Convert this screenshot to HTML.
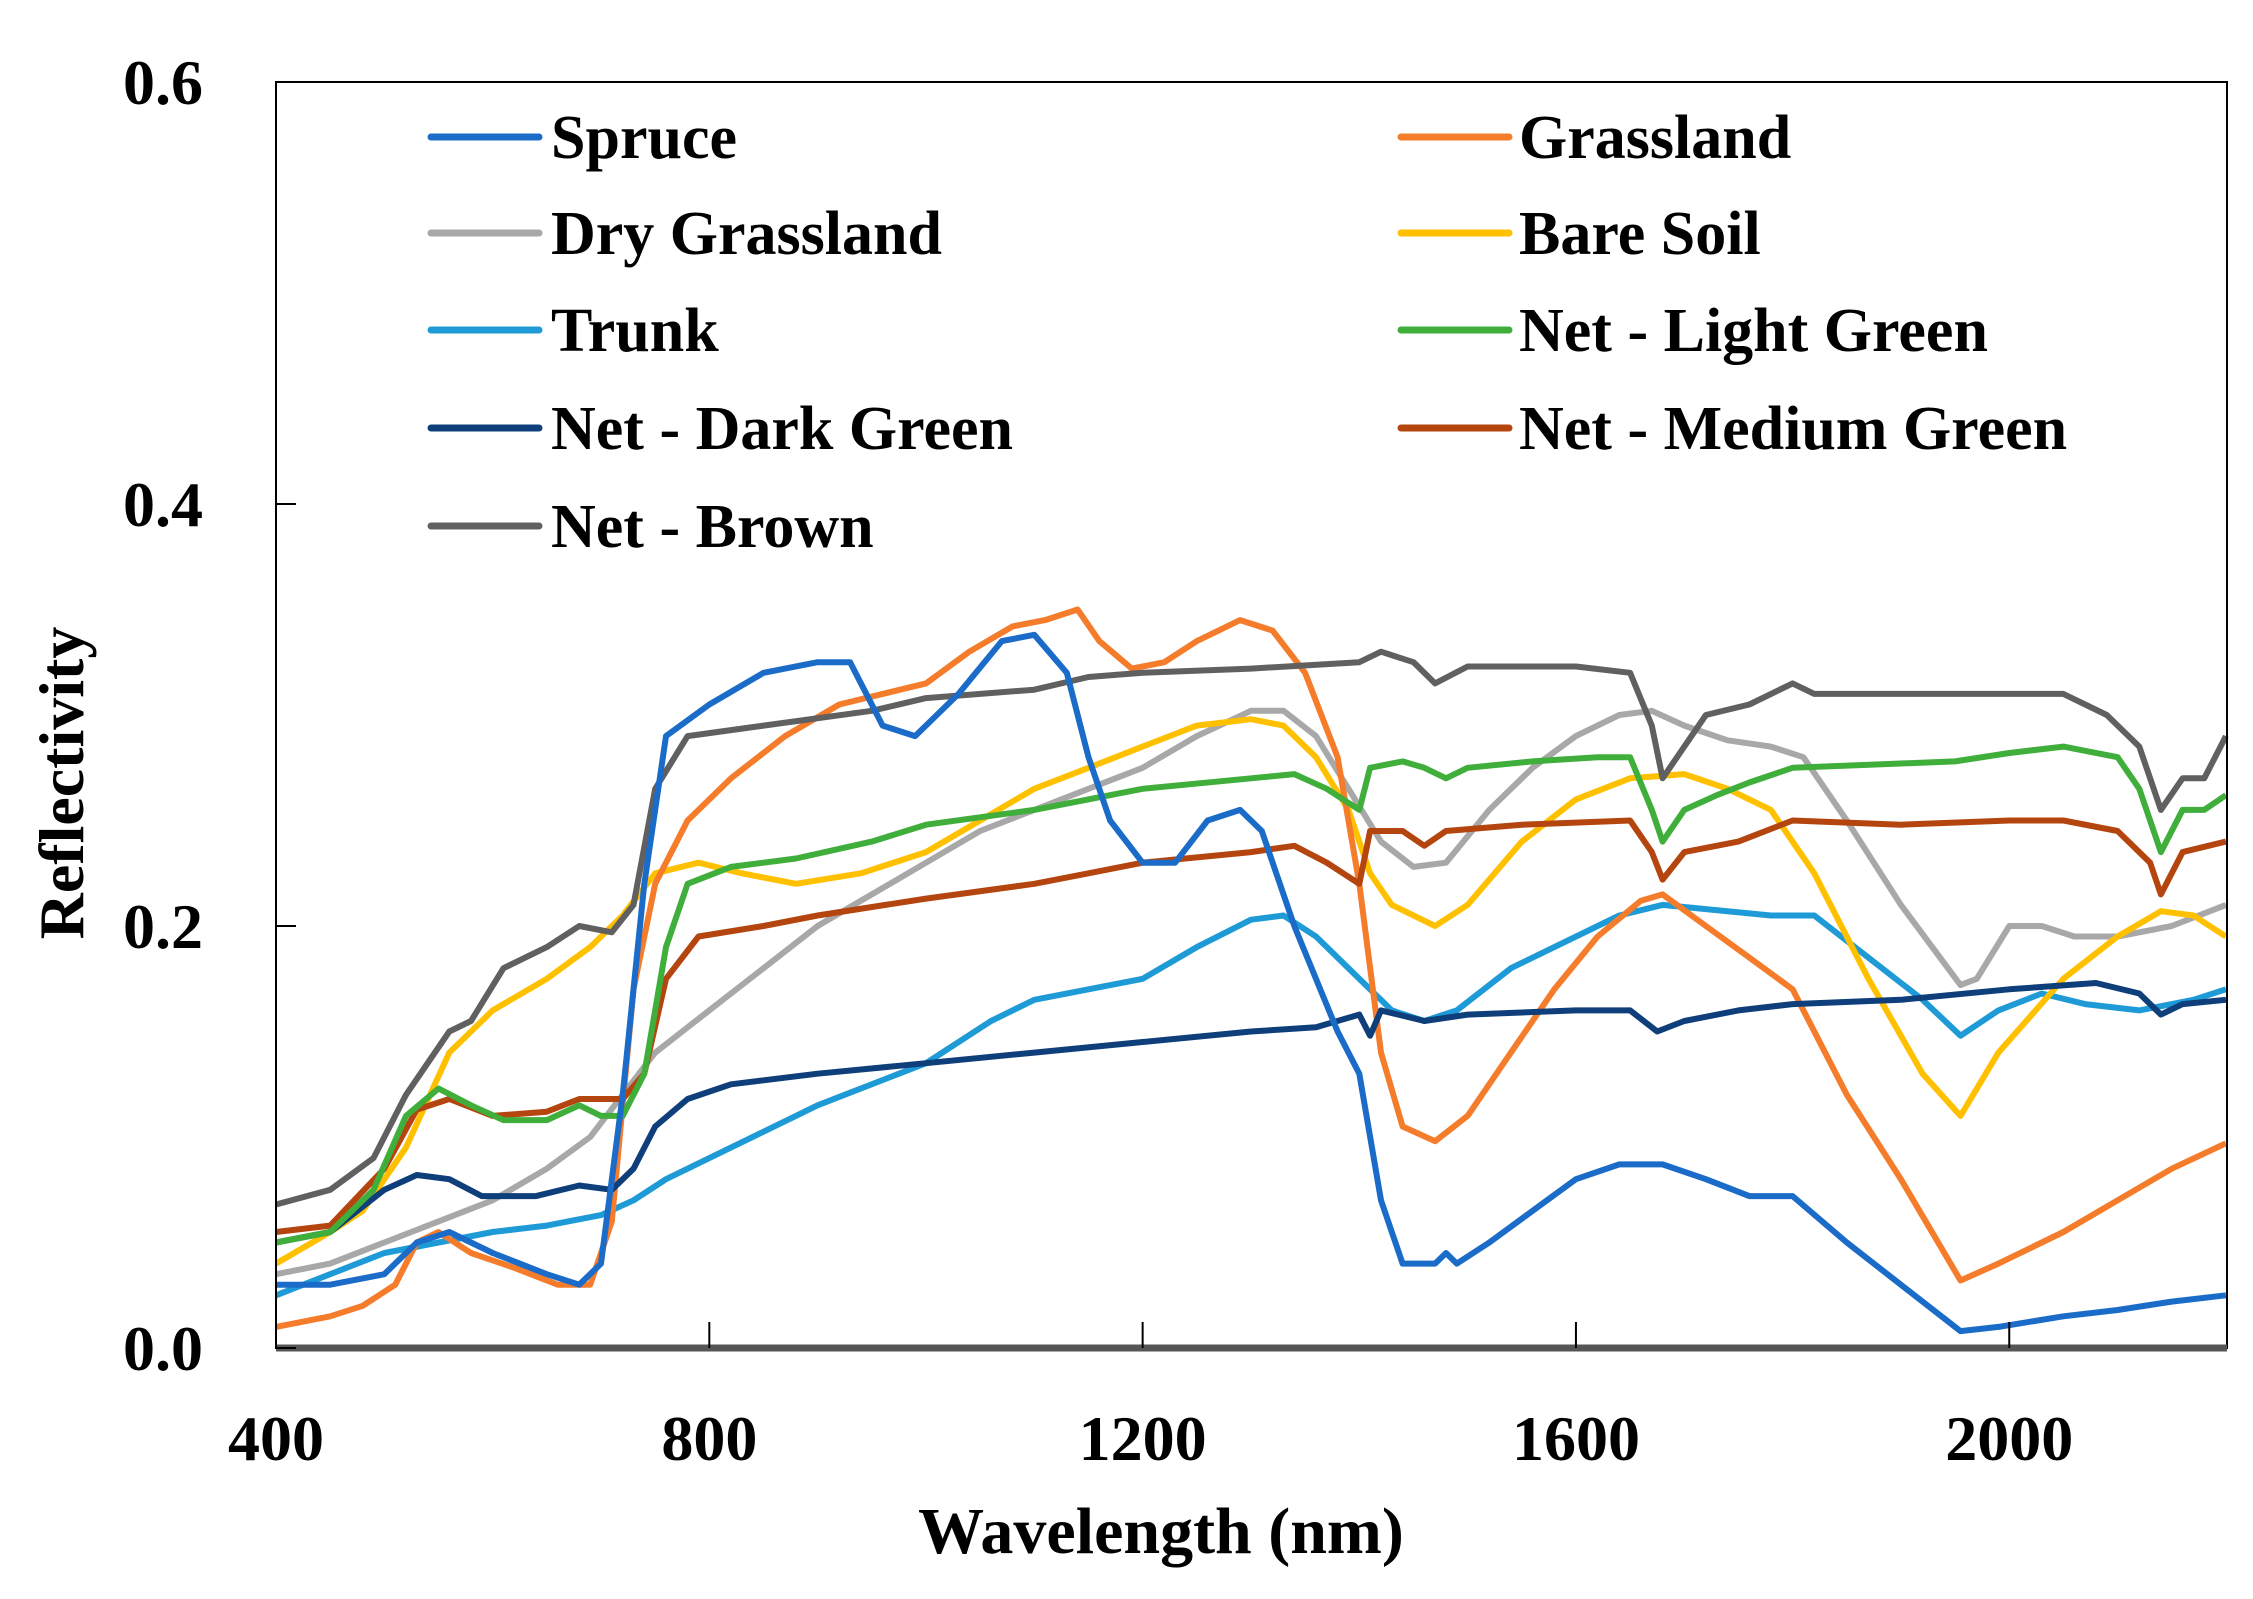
<!DOCTYPE html>
<html><head><meta charset="utf-8"><style>
html,body{margin:0;padding:0;background:#fff;}
svg{display:block;font-family:"Liberation Serif",serif;}
</style></head><body>
<svg id="chart" width="2253" height="1599" viewBox="0 0 2253 1599" xmlns="http://www.w3.org/2000/svg">
<rect x="0" y="0" width="2253" height="1599" fill="#fff"/>
<g id="series"></g>
<rect x="276" y="82" width="1951" height="1266" fill="none" stroke="#000" stroke-width="2"/>
<line x1="276" y1="1348" x2="2227" y2="1348" stroke="#555" stroke-width="7"/>
<g id="ticks"></g>
<g id="legend"></g>
<text x="1161" y="1553" font-size="66" font-weight="bold" text-anchor="middle">Wavelength (nm)</text>
<text x="0" y="0" font-size="64" font-weight="bold" text-anchor="middle" transform="translate(83,783) rotate(-90)">Reflectivity</text>
</svg>
<script>
const xTicks=[400,800,1200,1600,2000];
const yTicks=[0.0,0.2,0.4,0.6];
const yTickLabels=["0.0","0.2","0.4","0.6"];
const seriesNames=["Spruce","Grassland","Dry Grassland","Bare Soil","Trunk","Net - Light Green","Net - Dark Green","Net - Medium Green","Net - Brown"];
const seriesColors=["#1a6cc8","#f57c2b","#a8a8a8","#ffc000","#1e9bd7","#3fae3a","#0e3f7a","#b5450f","#606060"];
const spruceW=[400,450,500,530,560,600,650,680,700,720,740,760,800,850,900,930,960,990,1030,1070,1100,1130,1150,1170,1200,1230,1260,1290,1310,1340,1380,1400,1420,1440,1470,1480,1490,1520,1560,1600,1640,1680,1720,1760,1800,1850,1900,1955,1990,2050,2100,2150,2200];
const spruceR=[0.03,0.03,0.035,0.05,0.055,0.045,0.035,0.03,0.04,0.12,0.22,0.29,0.305,0.32,0.325,0.325,0.295,0.29,0.31,0.335,0.338,0.32,0.28,0.25,0.23,0.23,0.25,0.255,0.245,0.2,0.15,0.13,0.07,0.04,0.04,0.045,0.04,0.05,0.065,0.08,0.087,0.087,0.08,0.072,0.072,0.05,0.03,0.008,0.01,0.015,0.018,0.022,0.025];
const grassW=[400,450,480,510,530,550,580,620,660,690,710,730,750,780,820,870,920,960,1000,1040,1080,1110,1140,1160,1190,1220,1250,1290,1320,1350,1380,1400,1420,1440,1470,1500,1540,1580,1620,1660,1680,1720,1760,1800,1850,1900,1955,1990,2050,2100,2150,2200];
const grassR=[0.01,0.015,0.02,0.03,0.05,0.055,0.045,0.038,0.03,0.03,0.06,0.17,0.22,0.25,0.27,0.29,0.305,0.31,0.315,0.33,0.342,0.345,0.35,0.335,0.322,0.325,0.335,0.345,0.34,0.32,0.28,0.22,0.14,0.105,0.098,0.11,0.14,0.17,0.195,0.212,0.215,0.2,0.185,0.17,0.12,0.08,0.032,0.04,0.055,0.07,0.085,0.097];
const dryW=[400,450,500,550,600,650,690,720,750,800,850,900,950,1000,1050,1100,1150,1200,1250,1300,1330,1360,1390,1420,1450,1480,1520,1560,1600,1640,1670,1700,1740,1780,1810,1850,1900,1955,1970,2000,2030,2060,2100,2150,2200];
const dryR=[0.035,0.04,0.05,0.06,0.07,0.085,0.1,0.12,0.14,0.16,0.18,0.2,0.215,0.23,0.245,0.255,0.265,0.275,0.29,0.302,0.302,0.29,0.265,0.24,0.228,0.23,0.255,0.275,0.29,0.3,0.302,0.295,0.288,0.285,0.28,0.25,0.21,0.172,0.175,0.2,0.2,0.195,0.195,0.2,0.21];
const soilW=[400,450,480,520,560,600,650,690,720,750,790,830,880,940,1000,1050,1100,1150,1200,1250,1300,1330,1360,1390,1410,1430,1470,1500,1550,1600,1650,1700,1740,1780,1820,1870,1920,1955,1990,2050,2100,2140,2170,2200];
const soilR=[0.04,0.055,0.065,0.095,0.14,0.16,0.175,0.19,0.205,0.225,0.23,0.225,0.22,0.225,0.235,0.25,0.265,0.275,0.285,0.295,0.298,0.295,0.28,0.255,0.225,0.21,0.2,0.21,0.24,0.26,0.27,0.272,0.265,0.255,0.225,0.175,0.13,0.11,0.14,0.175,0.195,0.207,0.205,0.195];
const trunkW=[400,450,500,550,600,650,700,730,760,800,900,1000,1060,1100,1150,1200,1250,1300,1330,1360,1400,1430,1460,1490,1540,1580,1640,1680,1720,1780,1820,1870,1920,1955,1990,2030,2070,2120,2170,2200];
const trunkR=[0.025,0.035,0.045,0.05,0.055,0.058,0.063,0.07,0.08,0.09,0.115,0.135,0.155,0.165,0.17,0.175,0.19,0.203,0.205,0.195,0.175,0.16,0.155,0.16,0.18,0.19,0.205,0.21,0.208,0.205,0.205,0.185,0.165,0.148,0.16,0.168,0.163,0.16,0.165,0.17];
const lightW=[400,450,490,520,550,580,610,650,680,700,720,740,760,780,820,880,950,1000,1100,1200,1300,1340,1370,1400,1410,1440,1460,1480,1500,1560,1620,1650,1670,1680,1700,1730,1760,1800,1900,1950,2000,2050,2100,2120,2140,2160,2180,2200];
const lightR=[0.05,0.055,0.075,0.11,0.123,0.115,0.108,0.108,0.115,0.11,0.11,0.13,0.19,0.22,0.228,0.232,0.24,0.248,0.255,0.265,0.27,0.272,0.265,0.255,0.275,0.278,0.275,0.27,0.275,0.278,0.28,0.28,0.255,0.24,0.255,0.262,0.268,0.275,0.277,0.278,0.282,0.285,0.28,0.265,0.235,0.255,0.255,0.262];
const darkW=[400,450,500,530,560,590,640,680,710,730,750,780,820,900,1000,1100,1200,1300,1360,1400,1410,1420,1460,1500,1600,1650,1675,1700,1750,1800,1900,2000,2080,2120,2140,2160,2200];
const darkR=[0.05,0.055,0.075,0.082,0.08,0.072,0.072,0.077,0.075,0.085,0.105,0.118,0.125,0.13,0.135,0.14,0.145,0.15,0.152,0.158,0.148,0.16,0.155,0.158,0.16,0.16,0.15,0.155,0.16,0.163,0.165,0.17,0.173,0.168,0.158,0.163,0.165];
const mediumW=[400,450,500,530,560,600,650,680,720,740,760,790,850,900,1000,1100,1150,1200,1300,1340,1370,1400,1410,1440,1460,1480,1550,1650,1670,1680,1700,1750,1800,1900,2000,2050,2100,2130,2140,2160,2200];
const mediumR=[0.055,0.058,0.085,0.113,0.118,0.11,0.112,0.118,0.118,0.13,0.175,0.195,0.2,0.205,0.213,0.22,0.225,0.23,0.235,0.238,0.23,0.22,0.245,0.245,0.238,0.245,0.248,0.25,0.235,0.222,0.235,0.24,0.25,0.248,0.25,0.25,0.245,0.23,0.215,0.235,0.24];
const brownW=[400,450,490,520,560,580,610,650,680,710,730,750,780,850,950,1000,1100,1150,1200,1300,1400,1420,1450,1470,1500,1600,1650,1670,1680,1700,1720,1760,1800,1820,1900,2000,2050,2090,2120,2140,2160,2180,2200];
const brownR=[0.068,0.075,0.09,0.12,0.15,0.155,0.18,0.19,0.2,0.197,0.21,0.265,0.29,0.295,0.302,0.308,0.312,0.318,0.32,0.322,0.325,0.33,0.325,0.315,0.323,0.323,0.32,0.295,0.27,0.285,0.3,0.305,0.315,0.31,0.31,0.31,0.31,0.3,0.285,0.255,0.27,0.27,0.29];
const seriesW=[spruceW,grassW,dryW,soilW,trunkW,lightW,darkW,mediumW,brownW];
const seriesR=[spruceR,grassR,dryR,soilR,trunkR,lightR,darkR,mediumR,brownR];
const seriesKeys=["spruce","grassland","dry-grassland","bare-soil","trunk","net-light-green","net-dark-green","net-medium-green","net-brown"];

const NS="http://www.w3.org/2000/svg";
const X0=276,X1=2227,Y0=1348,Y1=82,XMIN=400,XMAX=2201,YMIN=0,YMAX=0.6;
function xs(w){return X0+(w-XMIN)/(XMAX-XMIN)*(X1-X0);}
function ys(r){return Y0-(r-YMIN)/(YMAX-YMIN)*(Y0-Y1);}

const sg=document.getElementById('series');
const order=[4,2,3,1,6,7,5,8,0];
order.forEach(function(i){
  let d="";
  for(let k=0;k<seriesW[i].length;k++){d+=(k?"L":"M")+xs(seriesW[i][k]).toFixed(1)+","+ys(seriesR[i][k]).toFixed(1);}
  const p=document.createElementNS(NS,'path');
  p.setAttribute('d',d);p.setAttribute('fill','none');p.setAttribute('stroke',seriesColors[i]);
  p.setAttribute('stroke-width','6');p.setAttribute('stroke-linejoin','round');
  
  
  sg.appendChild(p);
});

const tg=document.getElementById('ticks');
xTicks.forEach(function(t){
  const l=document.createElementNS(NS,'line');
  l.setAttribute('x1',xs(t));l.setAttribute('x2',xs(t));l.setAttribute('y1',Y0);l.setAttribute('y2',Y0-26);
  l.setAttribute('stroke','#000');l.setAttribute('stroke-width','2');
  
  
  tg.appendChild(l);
  const tx=document.createElementNS(NS,'text');
  tx.setAttribute('x',xs(t));tx.setAttribute('y',1460);tx.setAttribute('font-size','64');tx.setAttribute('font-weight','bold');tx.setAttribute('text-anchor','middle');
  tx.textContent=String(t);
  
  
  tg.appendChild(tx);
});
yTicks.forEach(function(t,i){
  const l=document.createElementNS(NS,'line');
  l.setAttribute('x1',X0);l.setAttribute('x2',X0+20);l.setAttribute('y1',ys(t));l.setAttribute('y2',ys(t));
  l.setAttribute('stroke','#000');l.setAttribute('stroke-width','2');
  
  
  tg.appendChild(l);
  const tx=document.createElementNS(NS,'text');
  tx.setAttribute('x',203);tx.setAttribute('y',ys(t)+22);tx.setAttribute('font-size','64');tx.setAttribute('font-weight','bold');tx.setAttribute('text-anchor','end');
  tx.textContent=yTickLabels[i];
  
  
  tg.appendChild(tx);
});

const lg=document.getElementById('legend');
const rowY=[137,233,330,428,526];
const legendPos=[[0,0],[1,0],[0,1],[1,1],[0,2],[1,2],[0,3],[1,3],[0,4]];
seriesNames.forEach(function(n,i){
  const col=legendPos[i][0],row=legendPos[i][1];
  const lx=col?1401:431, tx0=col?1519:551, y=rowY[row];
  const g=document.createElementNS(NS,'g');
  
  
  const l=document.createElementNS(NS,'line');
  l.setAttribute('x1',lx);l.setAttribute('x2',lx+108);l.setAttribute('y1',y);l.setAttribute('y2',y);
  l.setAttribute('stroke',seriesColors[i]);l.setAttribute('stroke-width','7');l.setAttribute('stroke-linecap','round');
  
  
  g.appendChild(l);
  const t=document.createElementNS(NS,'text');
  t.setAttribute('x',tx0);t.setAttribute('y',y+21);t.setAttribute('font-size','62');t.setAttribute('font-weight','bold');
  t.textContent=n;
  
  
  g.appendChild(t);
  lg.appendChild(g);
});
</script>
</body></html>
